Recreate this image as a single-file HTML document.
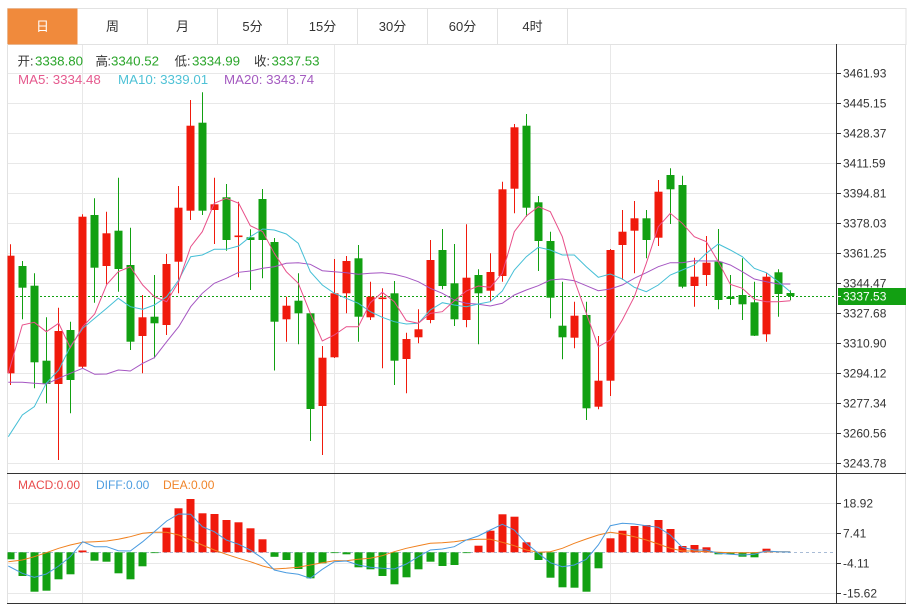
<!DOCTYPE html>
<html><head><meta charset="utf-8"><style>
html,body{margin:0;padding:0;background:#fff;}
svg{display:block;font-family:"Liberation Sans","Noto Sans CJK SC",sans-serif;}
</style></head><body>
<svg width="911" height="607" viewBox="0 0 911 607" xmlns="http://www.w3.org/2000/svg">
<defs><clipPath id="cp"><rect x="7.5" y="44" width="829" height="429"/></clipPath>
<clipPath id="cp2"><rect x="7.5" y="474" width="829" height="129"/></clipPath></defs>
<rect width="911" height="607" fill="#fff"/>
<!-- tab bar -->
<rect x="7.5" y="8.5" width="898.5" height="36" fill="#fff" stroke="#e2e2e2"/>
<rect x="7.5" y="8.5" width="70" height="36" fill="#f08a3c"/>
<g stroke="#e2e2e2"><line x1="147.5" y1="8.5" x2="147.5" y2="44.5"/><line x1="217.5" y1="8.5" x2="217.5" y2="44.5"/><line x1="287.5" y1="8.5" x2="287.5" y2="44.5"/><line x1="357.5" y1="8.5" x2="357.5" y2="44.5"/><line x1="427.5" y1="8.5" x2="427.5" y2="44.5"/><line x1="497.5" y1="8.5" x2="497.5" y2="44.5"/><line x1="567.5" y1="8.5" x2="567.5" y2="44.5"/></g>
<g font-size="13" text-anchor="middle" dominant-baseline="central" fill="#333">
<text x="42.5" y="26.5" fill="#fff">日</text><text x="112.5" y="26.5">周</text><text x="182.5" y="26.5">月</text><text x="252.5" y="26.5">5分</text><text x="322.5" y="26.5">15分</text><text x="392.5" y="26.5">30分</text><text x="462.5" y="26.5">60分</text><text x="532.5" y="26.5">4时</text></g>
<!-- frame -->
<g stroke="#e2e2e2"><line x1="7.5" y1="44" x2="7.5" y2="604"/><line x1="905.5" y1="44" x2="905.5" y2="604"/></g>
<!-- grid -->
<g stroke="#e8e8e8">
<line x1="8" y1="73.5" x2="836" y2="73.5"/><line x1="8" y1="103.5" x2="836" y2="103.5"/><line x1="8" y1="133.5" x2="836" y2="133.5"/><line x1="8" y1="163.5" x2="836" y2="163.5"/><line x1="8" y1="193.5" x2="836" y2="193.5"/><line x1="8" y1="223.5" x2="836" y2="223.5"/><line x1="8" y1="253.5" x2="836" y2="253.5"/><line x1="8" y1="283.5" x2="836" y2="283.5"/><line x1="8" y1="313.5" x2="836" y2="313.5"/><line x1="8" y1="343.5" x2="836" y2="343.5"/><line x1="8" y1="373.5" x2="836" y2="373.5"/><line x1="8" y1="403.5" x2="836" y2="403.5"/><line x1="8" y1="433.5" x2="836" y2="433.5"/><line x1="8" y1="463.5" x2="836" y2="463.5"/>
<line x1="8" y1="503.5" x2="836" y2="503.5"/><line x1="8" y1="533.5" x2="836" y2="533.5"/><line x1="8" y1="563.5" x2="836" y2="563.5"/><line x1="8" y1="593.5" x2="836" y2="593.5"/>
<line x1="82.5" y1="45" x2="82.5" y2="603"/><line x1="334.5" y1="45" x2="334.5" y2="603"/><line x1="610.5" y1="45" x2="610.5" y2="603"/>
</g>
<!-- price dashed -->
<line x1="8" y1="296.5" x2="836" y2="296.5" stroke="#12a012" stroke-dasharray="2 2"/>
<!-- candles -->
<g clip-path="url(#cp)">
<g stroke="#f01a0c" fill="#f01a0c">
<line x1="10.5" y1="244.3" x2="10.5" y2="385"/><rect x="6.5" y="255.7" width="8" height="117.6" stroke="none"/>
<line x1="58.5" y1="307.7" x2="58.5" y2="460"/><rect x="54.5" y="331" width="8" height="53" stroke="none"/>
<line x1="82.5" y1="214.3" x2="82.5" y2="368"/><rect x="78.5" y="216.7" width="8" height="150" stroke="none"/>
<line x1="106.5" y1="211.7" x2="106.5" y2="284.3"/><rect x="102.5" y="233.3" width="8" height="32.7" stroke="none"/>
<line x1="142.5" y1="295" x2="142.5" y2="373.3"/><rect x="138.5" y="317.3" width="8" height="18.7" stroke="none"/>
<line x1="166.5" y1="254" x2="166.5" y2="335"/><rect x="162.5" y="264" width="8" height="61" stroke="none"/>
<line x1="178.5" y1="186" x2="178.5" y2="293.3"/><rect x="174.5" y="207.7" width="8" height="54" stroke="none"/>
<line x1="190.5" y1="100" x2="190.5" y2="220"/><rect x="186.5" y="125.7" width="8" height="85" stroke="none"/>
<line x1="214.5" y1="177.7" x2="214.5" y2="244"/><rect x="210.5" y="204.3" width="8" height="5.7" stroke="none"/>
<line x1="238.5" y1="201.7" x2="238.5" y2="277.3"/><rect x="234.5" y="235.5" width="8" height="1.6" stroke="none"/>
<line x1="286.5" y1="296.7" x2="286.5" y2="341.7"/><rect x="282.5" y="305.7" width="8" height="13.6" stroke="none"/>
<line x1="322.5" y1="346" x2="322.5" y2="455"/><rect x="318.5" y="357.7" width="8" height="48.3" stroke="none"/>
<line x1="334.5" y1="259" x2="334.5" y2="358"/><rect x="330.5" y="293.3" width="8" height="64" stroke="none"/>
<line x1="346.5" y1="256" x2="346.5" y2="313.3"/><rect x="342.5" y="261" width="8" height="32.3" stroke="none"/>
<line x1="370.5" y1="281.7" x2="370.5" y2="320"/><rect x="366.5" y="296.7" width="8" height="20.6" stroke="none"/>
<line x1="382.5" y1="288.3" x2="382.5" y2="368.3"/><rect x="378.5" y="297.5" width="8" height="1.6" stroke="none"/>
<line x1="406.5" y1="332.7" x2="406.5" y2="393.3"/><rect x="402.5" y="339" width="8" height="20" stroke="none"/>
<line x1="418.5" y1="309.3" x2="418.5" y2="343.3"/><rect x="414.5" y="329.3" width="8" height="8" stroke="none"/>
<line x1="430.5" y1="240" x2="430.5" y2="323.3"/><rect x="426.5" y="260" width="8" height="60" stroke="none"/>
<line x1="466.5" y1="224.3" x2="466.5" y2="327.3"/><rect x="462.5" y="277.7" width="8" height="42.3" stroke="none"/>
<line x1="490.5" y1="253.3" x2="490.5" y2="301.7"/><rect x="486.5" y="272" width="8" height="18.7" stroke="none"/>
<line x1="502.5" y1="181.7" x2="502.5" y2="281.7"/><rect x="498.5" y="189.3" width="8" height="86.7" stroke="none"/>
<line x1="514.5" y1="124" x2="514.5" y2="213.3"/><rect x="510.5" y="127.3" width="8" height="61.4" stroke="none"/>
<line x1="574.5" y1="301.7" x2="574.5" y2="348.3"/><rect x="570.5" y="315.7" width="8" height="22" stroke="none"/>
<line x1="598.5" y1="336" x2="598.5" y2="409.3"/><rect x="594.5" y="380.7" width="8" height="26" stroke="none"/>
<line x1="610.5" y1="249" x2="610.5" y2="396"/><rect x="606.5" y="250" width="8" height="130.7" stroke="none"/>
<line x1="622.5" y1="210" x2="622.5" y2="280"/><rect x="618.5" y="231.7" width="8" height="13.3" stroke="none"/>
<line x1="634.5" y1="201" x2="634.5" y2="273.3"/><rect x="630.5" y="218.3" width="8" height="12.4" stroke="none"/>
<line x1="658.5" y1="180" x2="658.5" y2="246"/><rect x="654.5" y="191.7" width="8" height="46" stroke="none"/>
<line x1="694.5" y1="257.7" x2="694.5" y2="306.7"/><rect x="690.5" y="276.7" width="8" height="9.3" stroke="none"/>
<line x1="706.5" y1="236" x2="706.5" y2="286"/><rect x="702.5" y="262.7" width="8" height="12.3" stroke="none"/>
<line x1="766.5" y1="272.7" x2="766.5" y2="341.7"/><rect x="762.5" y="276.7" width="8" height="57.6" stroke="none"/>
</g>
<g stroke="#12a012" fill="#12a012">
<line x1="22.5" y1="261" x2="22.5" y2="319.3"/><rect x="18.5" y="266" width="8" height="21.7" stroke="none"/>
<line x1="34.5" y1="273.3" x2="34.5" y2="388.3"/><rect x="30.5" y="285.7" width="8" height="76.6" stroke="none"/>
<line x1="46.5" y1="317.3" x2="46.5" y2="403.3"/><rect x="42.5" y="360.7" width="8" height="23.3" stroke="none"/>
<line x1="70.5" y1="321.7" x2="70.5" y2="413.3"/><rect x="66.5" y="330" width="8" height="50" stroke="none"/>
<line x1="94.5" y1="198.3" x2="94.5" y2="302.7"/><rect x="90.5" y="215" width="8" height="52.7" stroke="none"/>
<line x1="118.5" y1="177.7" x2="118.5" y2="291.7"/><rect x="114.5" y="230.7" width="8" height="38.3" stroke="none"/>
<line x1="130.5" y1="227.7" x2="130.5" y2="350"/><rect x="126.5" y="265" width="8" height="76.7" stroke="none"/>
<line x1="154.5" y1="275" x2="154.5" y2="358.3"/><rect x="150.5" y="316.7" width="8" height="6.6" stroke="none"/>
<line x1="202.5" y1="92.3" x2="202.5" y2="215"/><rect x="198.5" y="122.7" width="8" height="88" stroke="none"/>
<line x1="226.5" y1="184" x2="226.5" y2="250.7"/><rect x="222.5" y="197.3" width="8" height="42.7" stroke="none"/>
<line x1="250.5" y1="229.3" x2="250.5" y2="290"/><rect x="246.5" y="237.3" width="8" height="2.7" stroke="none"/>
<line x1="262.5" y1="189" x2="262.5" y2="278.3"/><rect x="258.5" y="199" width="8" height="41" stroke="none"/>
<line x1="274.5" y1="238" x2="274.5" y2="370.5"/><rect x="270.5" y="242" width="8" height="79.7" stroke="none"/>
<line x1="298.5" y1="273.3" x2="298.5" y2="344.3"/><rect x="294.5" y="300.7" width="8" height="12.6" stroke="none"/>
<line x1="310.5" y1="313" x2="310.5" y2="441"/><rect x="306.5" y="313.3" width="8" height="95.7" stroke="none"/>
<line x1="358.5" y1="245" x2="358.5" y2="341.7"/><rect x="354.5" y="258.3" width="8" height="58.4" stroke="none"/>
<line x1="394.5" y1="281" x2="394.5" y2="385"/><rect x="390.5" y="293.3" width="8" height="67.4" stroke="none"/>
<line x1="442.5" y1="229" x2="442.5" y2="289.3"/><rect x="438.5" y="250" width="8" height="36" stroke="none"/>
<line x1="454.5" y1="244" x2="454.5" y2="326"/><rect x="450.5" y="283.3" width="8" height="36" stroke="none"/>
<line x1="478.5" y1="269.3" x2="478.5" y2="344.3"/><rect x="474.5" y="275" width="8" height="18.3" stroke="none"/>
<line x1="526.5" y1="114" x2="526.5" y2="216.7"/><rect x="522.5" y="125.7" width="8" height="82" stroke="none"/>
<line x1="538.5" y1="196" x2="538.5" y2="271"/><rect x="534.5" y="202.3" width="8" height="38.7" stroke="none"/>
<line x1="550.5" y1="231.7" x2="550.5" y2="318.3"/><rect x="546.5" y="241" width="8" height="56.7" stroke="none"/>
<line x1="562.5" y1="281.7" x2="562.5" y2="359.3"/><rect x="558.5" y="325.7" width="8" height="11.6" stroke="none"/>
<line x1="586.5" y1="301.7" x2="586.5" y2="420"/><rect x="582.5" y="315" width="8" height="93.3" stroke="none"/>
<line x1="646.5" y1="210" x2="646.5" y2="258.3"/><rect x="642.5" y="218.3" width="8" height="21.7" stroke="none"/>
<line x1="670.5" y1="168.3" x2="670.5" y2="224"/><rect x="666.5" y="175" width="8" height="14.3" stroke="none"/>
<line x1="682.5" y1="175.7" x2="682.5" y2="288.3"/><rect x="678.5" y="185" width="8" height="101.7" stroke="none"/>
<line x1="718.5" y1="229" x2="718.5" y2="309.3"/><rect x="714.5" y="261.7" width="8" height="38.3" stroke="none"/>
<line x1="730.5" y1="275" x2="730.5" y2="305"/><rect x="726.5" y="296.7" width="8" height="2.3" stroke="none"/>
<line x1="742.5" y1="258.3" x2="742.5" y2="320"/><rect x="738.5" y="295" width="8" height="9.3" stroke="none"/>
<line x1="754.5" y1="281.7" x2="754.5" y2="336"/><rect x="750.5" y="302.3" width="8" height="33.4" stroke="none"/>
<line x1="778.5" y1="269.3" x2="778.5" y2="316.7"/><rect x="774.5" y="272.3" width="8" height="21.7" stroke="none"/>
<line x1="790.5" y1="290.4" x2="790.5" y2="300.2"/><rect x="786.5" y="293" width="8" height="3" stroke="none"/>
</g>
<!-- MA lines -->
<g fill="none" stroke-width="1">
<polyline stroke="#a556c2" points="8.3,382.3 22.3,382.3 34.3,383.3 46.3,384 58.7,378.3 70.3,373.3 82.7,368.3 94.7,374.3 106.7,374 118.3,370 130.3,371 142.7,363.3 154.3,357.7 166.7,341.7 178.7,326.7 190.7,306.7 202.3,293.3 214.3,283.3 226.3,278.3 238.7,272.3 250.3,271 262.7,268.3 274.3,266.7 286.3,263.3 298.3,262.7 310.3,264.3 322.3,270.7 334.3,271.7 346.3,272.7 358.3,274.3 370.3,273.3 382.3,272.7 394.3,274.3 406.3,277.3 418.3,281.7 430.3,288.3 442.3,293.3 454.3,300 466.3,303.3 478.3,304.3 490.3,306 502.3,303.3 514.3,295 526.3,290 538.3,285.7 550.3,280 562.3,279 574.3,280.7 586.3,285.7 598.3,290.7 610.3,289 622.3,285 634.3,278.3 646.3,272.7 658.3,266.7 670.3,262.7 682.3,262.7 694.3,260.7 706.3,261 718.3,261 730.3,265 742.3,271.7 754.3,279 766.3,281.7 778.3,284 790.3,284"/>
<polyline stroke="#45bfd6" points="8.3,436.7 22.3,415 34.3,406.7 46.3,383.3 58.7,370 70.3,346.7 82.7,328.3 94.7,318.3 106.7,308.3 118.3,298.3 130.3,306.7 142.7,309.3 154.3,305 166.7,296.7 178.7,280 190.7,256.7 202.3,255 214.3,249.3 226.3,249.3 238.7,246 250.3,236.7 262.7,229 274.3,230 286.3,234 298.3,243.3 310.3,271.7 322.3,285 334.3,293.3 346.3,298.3 358.3,303.3 370.3,311.7 382.3,317.3 394.3,321.7 406.3,324 418.3,323.3 430.3,310 442.3,302.7 454.3,305 466.3,306.7 478.3,304 490.3,301.7 502.3,291 514.3,270 526.3,256.7 538.3,247.3 550.3,250 562.3,255 574.3,255 586.3,266.7 598.3,277.3 610.3,274 622.3,279 634.3,287.3 646.3,291.7 658.3,285 670.3,275 682.3,270 694.3,265 706.3,253.3 718.3,244 730.3,250 742.3,256.7 754.3,268.3 766.3,272.7 778.3,281.7 790.3,291.7"/>
<polyline stroke="#e8508a" points="8.3,373.3 22.3,325 34.3,322.3 46.3,331.7 58.7,323.3 70.3,347.7 82.7,326.7 94.7,314 106.7,284.5 118.3,271.7 130.3,266.7 142.7,285 154.3,296.7 166.7,301.7 178.7,281.7 190.7,246.7 202.3,231.7 214.3,203.3 226.3,198.3 238.7,203.3 250.3,225.7 262.7,231.7 274.3,253.3 286.3,271.7 298.3,283.3 310.3,313.3 322.3,341 334.3,335 346.3,326.7 358.3,326.7 370.3,302.7 382.3,292.3 394.3,301.7 406.3,320.7 418.3,323.3 430.3,313.3 442.3,311.7 454.3,300.7 466.3,291 478.3,286 490.3,287.3 502.3,273.3 514.3,231.7 526.3,216 538.3,206.7 550.3,211.7 562.3,236.7 574.3,280 586.3,313.3 598.3,346.7 610.3,340 622.3,320 634.3,296.7 646.3,263.3 658.3,226.7 670.3,213.3 682.3,223.3 694.3,236.7 706.3,241.7 718.3,261.7 730.3,284.3 742.3,288.3 754.3,299.3 766.3,301.7 778.3,301.7 790.3,300.7"/>
</g>
</g>
<!-- MACD -->
<g clip-path="url(#cp2)">
<line x1="8" y1="552.5" x2="836" y2="552.5" stroke="#a9bcd6" stroke-dasharray="3 3"/>
<g fill="#12a012">
<rect x="6.5" y="552.3" width="8" height="7"/><rect x="18.5" y="552.3" width="8" height="23.7"/><rect x="30.5" y="552.3" width="8" height="39.4"/><rect x="42.5" y="552.3" width="8" height="38.4"/><rect x="54.5" y="552.3" width="8" height="27"/><rect x="66.5" y="552.3" width="8" height="22"/>
<rect x="90.5" y="552.3" width="8" height="8.4"/><rect x="102.5" y="552.3" width="8" height="9.4"/><rect x="114.5" y="552.3" width="8" height="21"/><rect x="126.5" y="552.3" width="8" height="27"/><rect x="138.5" y="552.3" width="8" height="14"/><rect x="150.5" y="552.3" width="8" height="0.8"/>
<rect x="270.5" y="552.3" width="8" height="4.5"/><rect x="282.5" y="552.3" width="8" height="7.7"/><rect x="294.5" y="552.3" width="8" height="16.7"/><rect x="306.5" y="552.3" width="8" height="26"/><rect x="318.5" y="552.3" width="8" height="11"/><rect x="330.5" y="552.3" width="8" height="0.8"/><rect x="342.5" y="552.3" width="8" height="2"/><rect x="354.5" y="552.3" width="8" height="15"/><rect x="366.5" y="552.3" width="8" height="17"/><rect x="378.5" y="552.3" width="8" height="23.7"/><rect x="390.5" y="552.3" width="8" height="32"/><rect x="402.5" y="552.3" width="8" height="25"/><rect x="414.5" y="552.3" width="8" height="17"/><rect x="426.5" y="552.3" width="8" height="9.4"/><rect x="438.5" y="552.3" width="8" height="13.7"/><rect x="450.5" y="552.3" width="8" height="12.7"/><rect x="462.5" y="552.3" width="8" height="0.8"/>
<rect x="534.5" y="552.3" width="8" height="7.7"/><rect x="546.5" y="552.3" width="8" height="25.4"/><rect x="558.5" y="552.3" width="8" height="35"/><rect x="570.5" y="552.3" width="8" height="35.4"/><rect x="582.5" y="552.3" width="8" height="39.4"/><rect x="594.5" y="552.3" width="8" height="16"/>
<rect x="714.5" y="552.3" width="8" height="2"/><rect x="726.5" y="552.3" width="8" height="2"/><rect x="738.5" y="552.3" width="8" height="4.4"/><rect x="750.5" y="552.3" width="8" height="5"/>
</g>
<g fill="#f01a0c">
<rect x="78.5" y="550.5" width="8" height="1.8"/>
<rect x="162.5" y="527.7" width="8" height="24.6"/><rect x="174.5" y="508.3" width="8" height="44"/><rect x="186.5" y="499" width="8" height="53.3"/><rect x="198.5" y="513.3" width="8" height="39"/><rect x="210.5" y="514" width="8" height="38.3"/><rect x="222.5" y="520" width="8" height="32.3"/><rect x="234.5" y="522.3" width="8" height="30"/><rect x="246.5" y="528.3" width="8" height="24"/><rect x="258.5" y="539.3" width="8" height="13"/>
<rect x="474.5" y="545.7" width="8" height="6.6"/><rect x="486.5" y="530.7" width="8" height="21.6"/><rect x="498.5" y="514.3" width="8" height="38"/><rect x="510.5" y="516.7" width="8" height="35.6"/><rect x="522.5" y="542.3" width="8" height="10"/>
<rect x="606.5" y="538.3" width="8" height="14"/><rect x="618.5" y="530.7" width="8" height="21.6"/><rect x="630.5" y="526" width="8" height="26.3"/><rect x="642.5" y="525" width="8" height="27.3"/><rect x="654.5" y="520" width="8" height="32.3"/><rect x="666.5" y="529" width="8" height="23.3"/><rect x="678.5" y="546" width="8" height="6.3"/><rect x="690.5" y="545" width="8" height="7.3"/><rect x="702.5" y="547.3" width="8" height="5"/><rect x="762.5" y="548.7" width="8" height="3.6"/>
</g>
<g fill="none" stroke-width="1">
<polyline stroke="#f0801e" points="8.3,561.7 22.3,560 34.3,556.7 46.3,552.7 58.7,548.3 70.3,545 82.7,542.3 94.7,541.7 106.7,541 118.3,539.3 130.3,536.7 142.7,533.3 154.3,532.3 166.7,532.3 178.7,535 190.7,540 202.3,545 214.3,550 226.3,554.3 238.7,558.3 250.3,561.7 262.7,566 274.3,569 286.3,568.3 298.3,567.3 310.3,565 322.3,562.7 334.3,560.7 346.3,560.7 358.3,559.3 370.3,558.3 382.3,555.7 394.3,551.7 406.3,548.3 418.3,545.7 430.3,543.3 442.3,542.7 454.3,541.7 466.3,540 478.3,539.3 490.3,539.3 502.3,542.3 514.3,545.7 526.3,550 538.3,552.3 550.3,551.7 562.3,548.3 574.3,543.3 586.3,539 598.3,535 610.3,532.3 622.3,534 634.3,536.7 646.3,540 658.3,544 670.3,548.3 682.3,551 694.3,551 706.3,551.7 718.3,552.3 730.3,552.7 742.3,552.7 754.3,552.7 766.3,551.7 778.3,551.7 790.3,551.7"/>
<polyline stroke="#4a9be0" points="8.3,566 22.3,573.3 34.3,577.3 46.3,574 58.7,566 70.3,556.7 82.7,541.7 94.7,546.7 106.7,546.7 118.3,550.7 130.3,551 142.7,541.7 154.3,531.7 166.7,521 178.7,514 190.7,514.3 202.3,526.7 214.3,531.7 226.3,540 238.7,544.3 250.3,550 262.7,558.3 274.3,570 286.3,572.7 298.3,574.3 310.3,578.3 322.3,569.3 334.3,561.7 346.3,561 358.3,565 370.3,567.3 382.3,568.3 394.3,569 406.3,564 418.3,556.7 430.3,550 442.3,549 454.3,546.7 466.3,540 478.3,536 490.3,530 502.3,524.3 514.3,530 526.3,543.3 538.3,553.3 550.3,562.7 562.3,566.7 574.3,565 586.3,559.3 598.3,545 610.3,525.7 622.3,523.3 634.3,524 646.3,525.7 658.3,527.3 670.3,535 682.3,547.3 694.3,550 706.3,550 718.3,553.3 730.3,554.3 742.3,555 754.3,554.3 766.3,551 778.3,551.7 790.3,552"/>
</g>
</g>
<!-- axes -->
<g stroke="#333"><line x1="836.5" y1="44" x2="836.5" y2="604"/><line x1="7" y1="473.5" x2="906" y2="473.5"/><line x1="7" y1="603.5" x2="906" y2="603.5"/></g>
<g stroke="#333">
<line x1="836" y1="73.5" x2="841" y2="73.5"/><line x1="836" y1="103.5" x2="841" y2="103.5"/><line x1="836" y1="133.5" x2="841" y2="133.5"/><line x1="836" y1="163.5" x2="841" y2="163.5"/><line x1="836" y1="193.5" x2="841" y2="193.5"/><line x1="836" y1="223.5" x2="841" y2="223.5"/><line x1="836" y1="253.5" x2="841" y2="253.5"/><line x1="836" y1="283.5" x2="841" y2="283.5"/><line x1="836" y1="313.5" x2="841" y2="313.5"/><line x1="836" y1="343.5" x2="841" y2="343.5"/><line x1="836" y1="373.5" x2="841" y2="373.5"/><line x1="836" y1="403.5" x2="841" y2="403.5"/><line x1="836" y1="433.5" x2="841" y2="433.5"/><line x1="836" y1="463.5" x2="841" y2="463.5"/>
<line x1="836" y1="503.5" x2="841" y2="503.5"/><line x1="836" y1="533.5" x2="841" y2="533.5"/><line x1="836" y1="563.5" x2="841" y2="563.5"/><line x1="836" y1="593.5" x2="841" y2="593.5"/>
</g>
<g font-size="12" fill="#333" dominant-baseline="central">
<text x="843" y="73.5">3461.93</text><text x="843" y="103.5">3445.15</text><text x="843" y="133.5">3428.37</text><text x="843" y="163.5">3411.59</text><text x="843" y="193.5">3394.81</text><text x="843" y="223.5">3378.03</text><text x="843" y="253.5">3361.25</text><text x="843" y="283.5">3344.47</text><text x="843" y="313.5">3327.68</text><text x="843" y="343.5">3310.90</text><text x="843" y="373.5">3294.12</text><text x="843" y="403.5">3277.34</text><text x="843" y="433.5">3260.56</text><text x="843" y="463.5">3243.78</text>
<text x="843" y="503.5">18.92</text><text x="843" y="533.5">7.41</text><text x="843" y="563.5">-4.11</text><text x="843" y="593.5">-15.62</text>
</g>
<rect x="838" y="288" width="68" height="17" fill="#12a012"/>
<line x1="838" y1="296.5" x2="841" y2="296.5" stroke="#fff"/>
<text x="843" y="296.5" font-size="12" fill="#fff" dominant-baseline="central">3337.53</text>
<!-- legends -->
<g font-size="12.5" fill="#333">
<text x="17.5" y="65.5">开</text><text x="30" y="65.5">:</text>
<text x="95.5" y="65.5">高</text><text x="107.5" y="65.5">:</text>
<text x="174.5" y="65.5">低</text><text x="187" y="65.5">:</text>
<text x="254" y="65.5">收</text><text x="266.5" y="65.5">:</text>
</g>
<g font-size="13.3" fill="#2aa52a">
<text x="35" y="65.5">3338.80</text>
<text x="111" y="65.5">3340.52</text>
<text x="192" y="65.5">3334.99</text>
<text x="271.5" y="65.5">3337.53</text>
</g>
<g font-size="13.3">
<text x="18" y="84" fill="#e55a8e">MA5: 3334.48</text>
<text x="118" y="84" fill="#4fc2d6">MA10: 3339.01</text>
<text x="224" y="84" fill="#a45bc0">MA20: 3343.74</text>
</g>
<g font-size="12" dominant-baseline="central">
<text x="18" y="485" fill="#e84b4b">MACD:0.00</text>
<text x="96" y="485" fill="#4d9de0">DIFF:0.00</text>
<text x="163" y="485" fill="#f0852a">DEA:0.00</text>
</g>
</svg>
</body></html>
